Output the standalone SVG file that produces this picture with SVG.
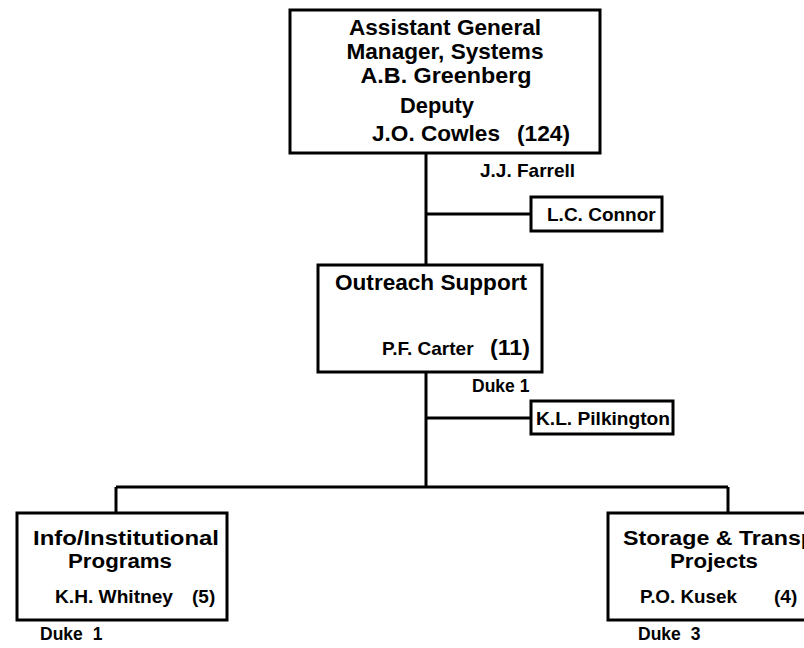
<svg xmlns="http://www.w3.org/2000/svg" width="804" height="648" viewBox="0 0 804 648">
<style>
text{font-family:"Liberation Sans",Arial,Helvetica,sans-serif;font-weight:bold;fill:#000}
.t{font-size:22px}
.b{font-size:20px}
.s{font-size:19px}
.d{font-size:17.5px}
.c{text-anchor:middle}
.box{fill:#fff;stroke:#000;stroke-width:3}
.ln{fill:none;stroke:#000;stroke-width:3}
</style>
<rect width="804" height="648" fill="#fff"/>
<g id="connectors">
<path class="ln" d="M426 153 V487"/>
<path class="ln" d="M426 214 H531"/>
<path class="ln" d="M426 418 H531"/>
<path class="ln" d="M116 487 H728"/>
<path class="ln" d="M116 487 V513"/>
<path class="ln" d="M728 487 V513"/>
</g>
<g id="agm">
<rect class="box" x="290" y="10" width="310" height="143"/>
<text class="t c" x="445" y="35" textLength="192" lengthAdjust="spacingAndGlyphs">Assistant General</text>
<text class="t c" x="445" y="59" textLength="197" lengthAdjust="spacingAndGlyphs">Manager, Systems</text>
<text class="t c" x="446" y="83" textLength="171" lengthAdjust="spacingAndGlyphs">A.B. Greenberg</text>
<text class="t c" x="437" y="113" textLength="74" lengthAdjust="spacingAndGlyphs">Deputy</text>
<text class="t" x="372" y="141" textLength="128" lengthAdjust="spacingAndGlyphs">J.O. Cowles</text>
<text class="t" x="517" y="141" textLength="53" lengthAdjust="spacingAndGlyphs">(124)</text>
</g>
<text id="farrell" class="s" x="480" y="177">J.J. Farrell</text>
<g id="connor">
<rect class="box" x="531" y="197" width="131" height="34"/>
<text class="s" x="547" y="221">L.C. Connor</text>
</g>
<g id="outreach">
<rect class="box" x="318" y="265" width="224" height="107"/>
<text class="t" x="335" y="290" textLength="192" lengthAdjust="spacingAndGlyphs">Outreach Support</text>
<text class="s" x="382" y="355">P.F. Carter</text>
<text class="t" x="490" y="355" textLength="40" lengthAdjust="spacingAndGlyphs">(11)</text>
</g>
<text id="duke-outreach" class="d" x="472" y="392">Duke 1</text>
<g id="pilkington">
<rect class="box" x="531" y="401" width="142" height="33"/>
<text class="s" x="536" y="425" textLength="134" lengthAdjust="spacingAndGlyphs">K.L. Pilkington</text>
</g>
<g id="info">
<rect class="box" x="17" y="513" width="210" height="107"/>
<text class="b" x="33" y="545" textLength="186" lengthAdjust="spacingAndGlyphs">Info/Institutional</text>
<text class="b" x="68" y="568" textLength="104" lengthAdjust="spacingAndGlyphs">Programs</text>
<text class="s" x="55" y="603" textLength="118" lengthAdjust="spacingAndGlyphs">K.H. Whitney</text>
<text class="s" x="192" y="603" font-size="21">(5)</text>
</g>
<text id="duke-info" class="d" x="40" y="640">Duke <tspan dx="5">1</tspan></text>
<g id="storage">
<rect class="box" x="608" y="513" width="220" height="107"/>
<text class="b" x="623" y="545" textLength="192" lengthAdjust="spacingAndGlyphs">Storage &amp; Transp</text>
<text class="b" x="670" y="568" textLength="88" lengthAdjust="spacingAndGlyphs">Projects</text>
<text class="s" x="640" y="603" textLength="97" lengthAdjust="spacingAndGlyphs">P.O. Kusek</text>
<text class="s" x="774" y="603" font-size="21">(4)</text>
</g>
<text id="duke-storage" class="d" x="638" y="640">Duke <tspan dx="5">3</tspan></text>
</svg>
